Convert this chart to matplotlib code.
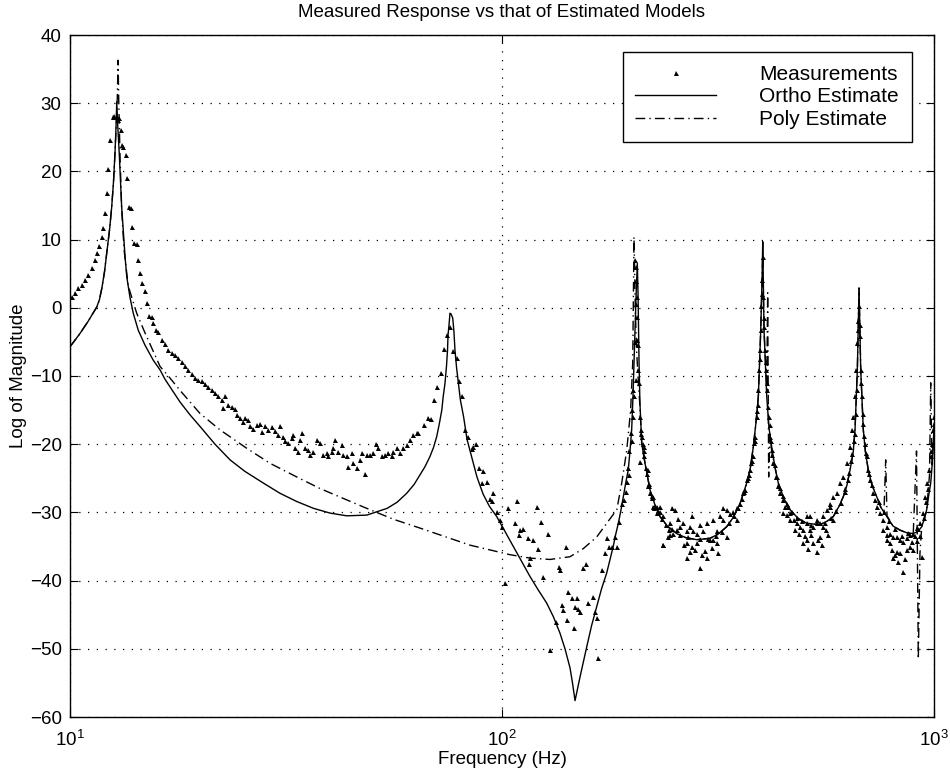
import matplotlib
matplotlib.use("Agg")
import matplotlib.pyplot as plt
from matplotlib.lines import Line2D
from matplotlib.ticker import NullLocator, FixedLocator

plt.rcParams['font.family'] = ['Liberation Sans', 'DejaVu Sans']

# ---------------- data ----------------
ortho_f = [10.0, 10.27, 10.55, 10.77, 11.01, 11.24, 11.53, 11.7, 11.86, 12.02,
           12.16, 12.35, 12.49, 12.61, 12.71, 12.78, 12.83, 12.89, 13.0, 13.17,
           13.41, 13.53, 13.76, 14.01, 14.39, 14.92, 15.59, 16.16, 16.6, 17.97,
           18.96, 20.0, 21.66, 23.47, 25.42, 28.03, 30.63, 33.48, 36.6, 39.98,
           43.7, 48.62, 54.24, 57.2, 60.17, 62.6, 64.59, 66.33, 68.12, 69.4,
           70.6, 71.6, 72.55, 73.1, 73.79, 74.4, 74.8, 75.0, 75.4, 75.78,
           76.2, 76.9, 77.4, 77.83, 78.5, 79.3, 80.1, 81.5, 83.0, 85.0,
           87.5, 90.4, 93.5, 97.2, 101.6, 106.2, 111.0, 116.1, 121.1, 126.9,
           131.5, 136.2, 139.9, 143.7, 145.6, 147.6, 149.6, 151.6, 154.3, 157.1,
           161.2, 165.7, 170.0, 174.7, 177.8, 180.9, 183.2, 185.9, 188.6, 190.9,
           193.6, 196.0, 197.8, 199.6, 201.0, 202.1, 204.3, 205.7, 206.5, 207.6,
           208.6, 210.6, 214.3, 220.1, 226.0, 232.1, 241.3, 253.7, 266.2, 282.3,
           303.0, 316.3, 331.2, 342.5, 355.6, 368.5, 375.1, 381.7, 387.2, 392.1,
           397.1, 399.9, 401.4, 404.2, 410.0, 415.0, 421.0, 428.5, 436.1, 449.6,
           464.2, 485.1, 507.4, 544.7, 565.3, 584.8, 602.8, 616.6, 628.9, 639.1,
           650.0, 656.4, 664.6, 670.6, 676.7, 686.1, 694.0, 704.6, 718.7, 736.9,
           753.9, 777.5, 803.9, 834.2, 865.7, 895.3, 918.0, 936.5, 950.4, 961.8,
           972.8, 982.6, 990.6, 996.3, 1000.0]
ortho_db = [-5.7, -4.75, -3.75, -2.9, -2.0, -1.05, 0.1, 1.2, 3.0, 5.3,
            8.0, 11.5, 14.8, 18.5, 22.7, 26.5, 30.2, 27.0, 22.7, 14.8,
            7.5, 4.6, 1.6, -0.8, -3.3, -5.5, -7.7, -9.1, -10.5, -13.8,
            -15.7, -17.4, -20.0, -22.3, -24.0, -25.7, -27.2, -28.4, -29.4, -30.1,
            -30.5, -30.4, -29.4, -28.5, -27.2, -25.9, -24.5, -23.3, -21.8, -20.5,
            -18.9, -17.0, -15.0, -13.0, -11.1, -8.5, -6.2, -4.0, -2.5, -0.8,
            -0.9, -1.5, -3.5, -6.2, -8.8, -11.1, -13.5, -16.0, -19.3, -21.8,
            -24.8, -27.3, -29.1, -30.6, -32.8, -35.0, -37.2, -39.4, -41.3, -43.3,
            -45.3, -47.7, -50.0, -52.8, -55.0, -57.6, -55.8, -54.1, -51.9, -49.7,
            -46.6, -43.8, -41.2, -38.9, -36.9, -35.0, -33.3, -31.6, -29.6, -27.7,
            -25.5, -23.8, -21.0, -17.9, -13.0, -8.1, 1.6, 6.5, 2.0, -8.0,
            -14.0, -19.9, -22.8, -26.7, -28.9, -30.6, -32.0, -33.1, -33.7, -34.0,
            -33.8, -33.2, -32.1, -30.8, -28.7, -25.7, -23.8, -20.4, -16.8, -13.0,
            -3.3, 4.1, 9.7, -3.3, -13.0, -17.6, -20.4, -23.4, -25.7, -28.0,
            -29.6, -30.9, -31.6, -31.8, -31.3, -30.6, -29.1, -27.7, -26.0, -23.8,
            -21.2, -17.9, -9.1, 2.9, -9.1, -17.9, -21.2, -23.8, -26.0, -27.7,
            -29.3, -30.6, -32.0, -32.6, -33.0, -33.1, -32.8, -32.1, -30.9, -29.6,
            -27.4, -25.7, -22.9, -19.9, -17.5]

poly_f = [10.0, 10.27, 10.55, 10.77, 11.01, 11.24, 11.53, 11.7, 11.86, 12.02,
          12.16, 12.35, 12.49, 12.61, 12.71, 12.80, 12.87, 12.92, 12.97, 13.06,
          13.17, 13.34, 13.64, 14.27, 14.92, 16.16, 17.04, 17.97, 20.0, 22.25,
          25.65, 29.04, 33.48, 37.91, 47.76, 56.03, 64.59, 75.78, 84.3, 93.79,
          104.3, 116.1, 129.2, 143.7, 154.3, 165.7, 174.7, 184.4, 189.3, 194.4,
          198.5, 200.7, 202.1, 203.5, 204.8, 206.5, 208.6, 210.6, 214.3, 220.1,
          226.0, 232.1, 241.3, 253.7, 266.2, 282.3, 303.0, 316.3, 331.2, 342.5,
          355.6, 368.5, 375.1, 381.7, 387.2, 392.1, 397.1, 399.9, 401.4, 404.2,
          410.0, 412.1, 414.3, 417.3, 421.0, 428.5, 436.1, 449.6, 464.2, 485.1,
          507.4, 544.7, 565.3, 584.8, 602.8, 616.6, 628.9, 639.1, 650.0, 656.4,
          664.6, 670.6, 676.7, 686.1, 694.0, 704.6, 718.7, 736.9, 753.9, 766.1,
          773.0, 778.4, 803.9, 834.2, 865.7, 895.3, 911.0, 919.8, 927.9, 936.5,
          950.4, 961.8, 976.3, 982.6, 989.5, 996.3, 1000.0]
poly_db = [-5.7, -4.75, -3.75, -2.9, -2.0, -1.05, 0.1, 1.2, 3.0, 5.3,
           8.0, 11.5, 14.8, 18.5, 22.7, 27.0, 31.0, 36.3, 30.0, 22.0,
           14.5, 8.5, 3.2, -0.8, -3.7, -8.6, -10.3, -12.1, -15.5, -17.9,
           -20.6, -22.8, -24.8, -26.5, -29.2, -31.0, -32.3, -33.8, -34.8, -35.5,
           -36.2, -36.7, -36.9, -36.5, -35.3, -33.6, -31.6, -29.6, -25.7, -20.9,
           -15.0, -8.1, 10.4, 0.0, -6.0, -10.0, -14.5, -19.9, -22.8, -26.7,
           -28.9, -30.6, -32.0, -33.1, -33.7, -34.0, -33.8, -33.2, -32.1, -30.8,
           -28.7, -25.7, -23.8, -20.4, -16.8, -13.0, -3.3, 4.1, 8.0, -3.3,
           -12.0, 2.2, -24.8, -18.5, -21.0, -23.4, -25.7, -28.0, -29.6, -30.9,
           -31.6, -31.8, -31.3, -30.6, -29.1, -27.7, -26.0, -23.8, -21.2, -17.9,
           -9.1, 2.9, -9.1, -17.9, -21.2, -23.8, -26.0, -27.7, -29.3, -29.8,
           -22.3, -30.5, -32.0, -32.6, -33.0, -33.1, -21.0, -51.5, -36.0, -32.1,
           -30.9, -29.6, -24.5, -11.0, -23.0, -19.9, -17.5]

meas_f = [10.09, 10.27, 10.45, 10.64, 10.83, 11.02, 11.23, 11.43, 11.57, 11.69,
          11.84, 11.94, 12.05, 12.16, 12.27, 12.38, 12.56, 12.66, 12.83, 12.93,
          13.0, 13.1, 13.17, 13.29, 13.46, 13.57, 13.72, 13.82, 13.92, 14.07,
          14.27, 14.39, 14.52, 14.66, 14.92, 15.05, 15.26, 15.45, 15.59, 15.82,
          16.01, 16.31, 16.6, 16.89, 17.2, 17.5, 17.81,
          18.14, 18.46, 18.79, 19.13, 19.47, 19.82, 20.18, 20.54, 20.91, 21.29,
          21.66, 22.05, 22.45, 22.85, 22.65, 23.26, 23.68, 24.10, 24.32, 24.75,
          25.19, 25.42, 25.87, 26.10, 26.57, 27.05, 27.54, 27.79, 28.28, 28.78,
          29.30, 29.83, 30.36, 30.63, 31.18, 31.46, 32.02, 32.6, 32.89, 33.18,
          33.77, 34.07, 34.38, 34.99, 35.62, 35.94, 36.58, 37.24, 37.91, 38.59,
          39.28, 39.63, 40.34, 40.70, 41.06, 41.8, 42.55, 42.93, 43.7, 44.1,
          44.87, 45.28, 46.09, 46.91, 47.34, 48.18, 48.62, 49.48, 50.37, 51.09,
          51.73, 52.65, 53.60, 54.56, 55.55, 56.06, 57.1, 58.06, 59.11, 60.17,
          61.24, 62.34, 63.45,
          64.0, 65.98, 67.3, 68.4, 69.6, 70.6, 72.1, 73.4, 74.4, 75.78,
          77.2, 78.6, 79.7, 81.0, 82.09, 83.6, 85.0, 85.8, 87.0, 88.4,
          90.5, 92.1, 89.7, 94.6, 93.8, 95.5, 97.2, 98.95, 99.8, 101.6,
          103.4, 107.2, 108.1, 109.7, 110.1, 112.0, 115.1, 115.7, 116.1, 118.1,
          120.2, 121.3, 122.9, 124.6, 128.0, 129.2, 133.4, 135.5, 136.2, 137.4,
          138.6, 140.6, 141.6, 142.4, 145.1, 146.8, 147.6, 149.1, 150.3, 151.6,
          154.3, 156.6, 158.4, 162.7, 164.2, 165.7, 167.2, 170.2, 173.2, 175.3,
          177.2, 179.4, 182.6, 184.3, 186.9, 189.3, 191.6, 193.4, 195.0, 196.8,
          198.5, 199.6, 200.7, 202.1, 203.5, 204.3, 204.3, 205.0, 205.0, 205.7,
          206.5, 208.6, 208.6, 209.4, 210.9, 211.8, 212.9, 213.4, 216.2, 217.4,
          218.1, 218.7, 220.1, 222.2, 223.3, 224.2, 224.8, 228.0, 228.5, 232.1,
          232.1, 235.5, 236.3, 236.3, 242.6, 243.9, 244.8, 244.8, 247.0, 249.3,
          251.5, 253.7, 256.0, 258.2, 262.8, 267.5, 267.5, 267.5, 272.4, 274.9,
          274.9, 277.3, 279.8, 282.3, 282.3, 287.3, 287.3, 292.5, 297.7, 297.7,
          303.0, 308.5, 308.5, 314.0, 314.0, 319.6, 325.4, 325.4, 331.2, 331.2,
          337.1, 343.1, 349.3, 349.3,
          355.6, 362.0, 368.5, 375.1, 380.7, 385.2, 388.6, 392.1, 394.1, 395.6,
          397.1, 398.2, 399.9, 401.4, 402.7, 404.2, 406.9, 408.3, 411.3, 414.3,
          417.3, 421.0, 424.5, 430.5, 436.1, 440.1, 446.4, 447.9, 452.0, 456.1,
          460.2, 464.2, 464.2, 472.9, 477.3, 481.5, 485.9, 489.6, 498.7, 498.7,
          507.4, 507.4, 507.4, 512.2, 516.4, 516.4, 525.5, 525.5, 534.9, 534.9,
          544.7, 544.7, 554.4, 554.4, 564.4, 569.5, 574.6, 574.6, 584.8, 584.8,
          595.5, 606.0, 616.8, 627.8, 639.1, 645.3, 651.1, 656.4, 660.0, 664.6,
          667.0, 669.4, 674.1, 676.7, 680.1, 686.1, 692.3, 698.5, 704.6, 711.0,
          723.7, 730.2, 736.9, 749.9, 763.3, 763.3, 777.5, 777.5, 790.9, 790.9,
          798.1, 805.1, 805.1, 812.3, 819.6, 819.6, 834.2, 834.2, 849.4, 849.4,
          864.9, 864.9, 879.8, 879.8, 895.3, 895.3, 911.6, 927.9, 936.5, 941.5,
          953.0, 964.6, 975.1, 982.6, 989.5, 996.3, 1000.0,
          196.0, 197.2, 200.0, 201.0, 202.7, 203.8, 204.6, 207.0, 207.9, 209.8,
          212.6, 215.5, 219.0, 222.5, 226.0, 229.6, 234.6, 239.6, 247.3, 258.2,
          269.5, 287.3, 299.8, 312.9, 322.9, 335.3, 344.4, 351.8, 359.5, 365.2,
          371.1, 378.2, 383.3, 390.4, 395.1, 399.2,
          403.8, 407.7, 410.7, 412.8, 416.2, 419.5, 422.8, 427.4, 433.6, 440.1,
          447.1, 457.0, 469.4, 482.2, 495.3, 519.3, 535.7, 559.5, 578.1, 593.3,
          607.6, 620.7, 632.5, 643.0, 652.5, 659.4, 662.7, 668.6,
          672.7, 677.8, 683.3, 688.9, 696.3, 707.2, 718.8, 744.1, 766.6, 786.7,
          814.4, 842.8, 870.2, 903.6, 919.4, 946.2, 958.5, 969.5, 985.8, 999.1,
          622.3, 636.3, 647.3, 654.6,
          363.2, 372.1, 377.1, 384.3, 389.4,
          295.1, 306.4, 316.3, 290.5, 272.4, 263.7,
          520.3, 538.6, 550.1, 502.9, 562.5,
          856.7, 825.0, 888.9, 779.6, 911.0, 927.9]
meas_db = [1.6, 2.1, 2.9, 3.3, 4.1, 4.8, 5.8, 7.0, 8.0, 9.0,
           10.4, 11.7, 13.9, 16.8, 20.4, 24.6, 28.0, 28.1, 28.0, 27.5,
           27.8, 26.1, 23.9, 23.6, 22.4, 19.1, 14.8, 14.6, 11.9, 9.5,
           9.4, 7.0, 5.1, 3.6, 2.4, 0.7, -1.2, -1.4, -2.3, -3.3,
           -3.5, -4.7, -5.3, -6.2, -6.7, -6.9, -7.4,
           -7.9, -8.6, -9.1, -9.7, -10.3, -10.6, -10.8, -11.2, -11.6, -12.1,
           -12.5, -13.0, -13.5, -12.9, -14.7, -14.3, -14.6, -14.9, -15.7, -16.2,
           -16.7, -16.1, -16.5, -17.3, -17.7, -17.2, -17.0, -18.2, -17.4, -17.9,
           -17.5, -18.0, -18.6, -17.3, -18.9, -19.5, -19.8, -19.1, -18.6, -20.6,
           -21.1, -19.4, -18.4, -20.6, -20.8, -21.6, -21.1, -19.4, -19.8, -21.6,
           -21.3, -21.7, -21.1, -20.6, -19.4, -21.2, -20.1, -21.6, -21.8, -23.3,
           -21.3, -22.8, -23.5, -22.3, -21.3, -24.3, -21.6, -21.6, -21.3, -19.9,
           -20.6, -21.8, -21.6, -21.3, -21.8, -21.1, -20.6, -21.3, -20.6, -20.1,
           -19.4, -18.6, -18.4,
           -18.4, -17.2, -16.2, -16.3, -13.5, -11.6, -9.5, -6.1, -4.0, -2.8,
           -6.4, -7.4, -10.8, -12.9, -17.9, -19.0, -20.7, -20.4, -19.9, -23.5,
           -24.0, -25.5, -25.7, -28.4, -28.0, -27.2, -29.9, -31.1, -32.1, -40.4,
           -29.4, -31.6, -28.4, -33.3, -32.6, -32.5, -33.8, -37.5, -36.7, -34.0,
           -29.2, -35.3, -31.4, -39.4, -33.1, -50.2, -46.0, -38.0, -38.4, -43.6,
           -44.3, -35.0, -45.8, -41.6, -42.5, -47.0, -43.8, -42.5, -44.1, -44.6,
           -38.2, -37.5, -43.3, -42.4, -44.6, -45.5, -51.3, -38.5, -36.0, -33.8,
           -35.0, -35.0, -33.6, -35.0, -31.4, -28.7, -28.2, -27.0, -25.5, -24.5,
           -18.4, -19.6, -16.0, -13.0, 7.0, 6.0, -10.6, 1.6, -4.7, -1.3,
           -9.1, -16.0, -22.6, -17.9, -18.9, -19.9, -20.4, -21.8, -24.3, -23.8,
           -26.2, -26.2, -27.2, -27.9, -27.7, -29.2, -29.4, -30.1, -29.2, -29.9,
           -29.2, -34.8, -30.6, -34.8, -33.6, -32.6, -31.6, -33.3, -29.4, -33.1,
           -29.6, -32.6, -30.9, -32.1, -31.6, -32.8, -36.7, -34.5, -32.1, -30.6,
           -35.0, -32.8, -35.5, -33.1, -34.5, -31.8, -38.2, -32.8, -31.6, -36.7,
           -34.0, -31.1, -34.0, -32.8, -34.5, -30.6, -29.4, -31.1, -29.7, -33.6,
           -30.3, -29.9, -29.3, -31.1,
           -28.7, -27.2, -25.2, -23.8, -21.8, -18.9, -16.0, -12.1, -9.1, -6.2,
           -3.3, 0.2, 4.1, 7.5, 1.6, -2.8, -6.2, -9.1, -12.1, -16.0,
           -18.9, -20.9, -22.8, -24.8, -26.2, -27.2, -28.2, -30.1, -29.2, -30.4,
           -29.2, -30.1, -31.1, -31.1, -32.6, -31.6, -33.1, -32.1, -32.6, -34.5,
           -31.6, -34.0, -30.6, -35.3, -32.6, -30.6, -32.1, -34.5, -31.1, -35.8,
           -31.6, -33.6, -30.6, -32.1, -29.6, -33.3, -28.7, -29.2, -27.7, -31.1,
           -27.2, -25.7, -24.8, -22.8, -20.4, -17.9, -16.0, -13.0, -9.1, -5.2,
           -3.3, 0.2, -4.2, -9.1, -13.0, -17.0, -19.9, -21.8, -23.8, -25.2,
           -27.2, -28.2, -29.2, -30.1, -31.1, -32.6, -32.1, -33.3, -33.1, -34.5,
           -35.5, -33.6, -36.7, -36.2, -33.6, -35.8, -34.0, -36.0, -34.3, -38.7,
           -33.8, -35.5, -33.3, -35.0, -33.1, -35.5, -32.3, -31.6, -36.5, -30.1,
           -27.7, -25.7, -23.8, -21.8, -19.9, -17.9, -16.0,
           -23.5, -21.0, -15.0, -12.0, -5.0, 0.5, 4.0, -5.5, -11.0, -18.5,
           -21.0, -23.5, -25.8, -27.6, -29.0, -29.8, -31.0, -31.9, -32.5, -33.3,
           -33.6, -33.9, -33.9, -33.4, -32.9, -31.5, -30.5, -29.4, -28.0, -26.7,
           -24.9, -22.4, -19.8, -14.2, -7.5, 2.0,
           -1.5, -8.0, -11.0, -14.5, -17.2, -19.5, -21.6, -23.0, -24.8, -26.4,
           -27.6, -28.8, -29.9, -30.8, -31.3, -31.8, -31.5, -31.6, -30.8, -29.8,
           -28.6, -27.0, -25.2, -22.5, -19.5, -15.5, -12.0, -2.0,
           -2.5, -11.0, -15.5, -18.8, -21.3, -24.3, -26.0, -28.5, -30.0, -31.2,
           -32.4, -33.5, -33.0, -33.5, -32.5, -30.8, -28.5, -26.5, -21.0, -17.0,
           -26.5, -24.2, -21.5, -18.5,
           -27.0, -24.5, -22.8, -19.5, -15.2,
           -35.6, -35.2, -36.0, -36.3, -35.8, -34.8,
           -33.3, -34.0, -34.8, -33.5, -32.6,
           -36.8, -37.3, -34.3, -34.0, -34.2, -33.4]

legend_labels = ["Measurements", "Ortho Estimate", "Poly Estimate"]
y_ticks = [-60, -50, -40, -30, -20, -10, 0, 10, 20, 30, 40]
x_ticks = [10, 100, 1000]

# ---------------- figure ----------------
fig = plt.figure(figsize=(9.5, 7.76), dpi=100)
ax = fig.add_axes([70 / 950, 59 / 776, 864 / 950, 682 / 776])

ax.plot(meas_f, meas_db, linestyle='none', marker='^', markersize=3.6,
        markeredgewidth=0, color='k', zorder=3)
ax.plot(ortho_f, ortho_db, '-', color='k', linewidth=1.0, zorder=2)
ax.plot(poly_f, poly_db, color='k', linewidth=1.0, dashes=(7, 3, 1, 3), zorder=2)

ax.set_xscale('log')
ax.set_xlim(10, 1000)
ax.set_ylim(-60, 40)
ax.xaxis.set_major_locator(FixedLocator(x_ticks))
ax.xaxis.set_minor_locator(NullLocator())
ax.set_yticks(y_ticks)
ax.grid(True, which='major', color='k', linestyle=(0, (1, 6)), linewidth=0.9)
ax.tick_params(direction='in', top=True, right=True, length=6, width=0.8,
               labelsize=13.5)
ax.tick_params(axis='x', pad=9)
ax.tick_params(axis='y', pad=6)
for s in ax.spines.values():
    s.set_linewidth(1.0)

ax.set_title("Measured Response vs that of Estimated Models", fontsize=13.5, pad=13)
ax.set_xlabel("Frequency (Hz)", fontsize=13.5, labelpad=1)
ax.set_ylabel("Log of Magnitude", fontsize=13.5, labelpad=2)

handles = [Line2D([], [], linestyle='none', marker='^', markersize=3.6,
                  markeredgewidth=0, color='k'),
           Line2D([], [], linestyle='-', color='k', linewidth=1.0),
           Line2D([], [], color='k', linewidth=1.0, dashes=(7, 3, 1, 3))]
leg = ax.legend(handles, legend_labels, loc='upper right',
                bbox_to_anchor=(912 / 950, (776 - 52) / 776),
                bbox_transform=fig.transFigure, borderaxespad=0,
                fancybox=False, edgecolor='k', framealpha=1, fontsize=15,
                handlelength=3.85, handletextpad=2.1, labelspacing=0.17,
                borderpad=0.62, numpoints=1)
leg.get_frame().set_linewidth(1.0)

fig.savefig("out.png", dpi=100)
